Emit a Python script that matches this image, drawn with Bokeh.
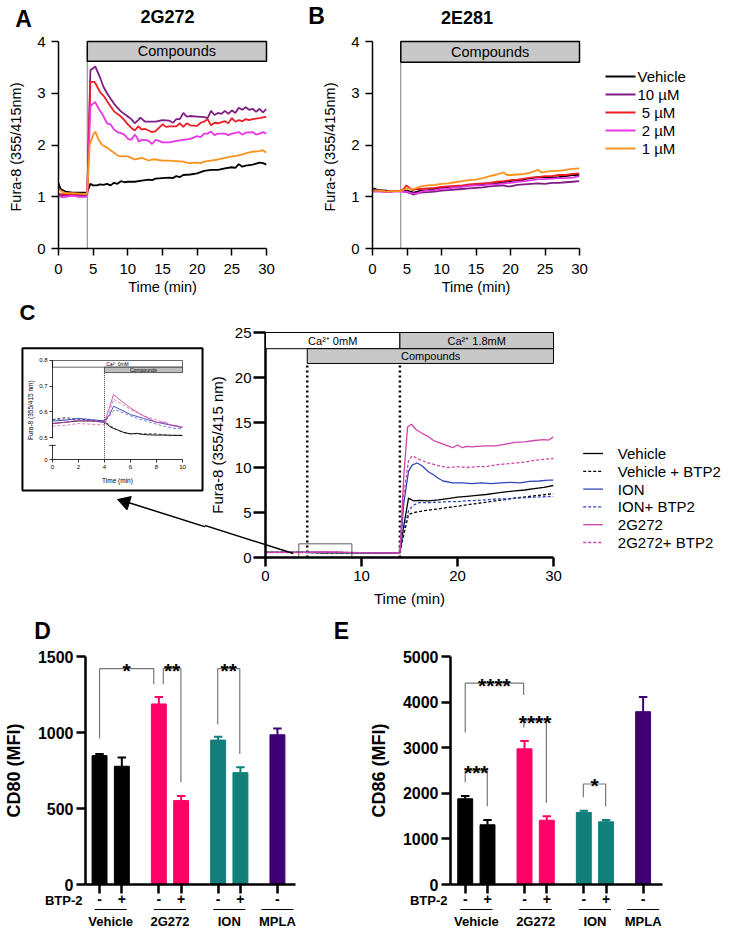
import math
from bokeh.plotting import figure
from bokeh.models import Range1d, FixedTicker
from bokeh.layouts import row, column
from bokeh.embed import file_html
from bokeh.resources import INLINE
from bokeh.core.properties import value

FONT = "Liberation Sans"

# ---------------- Panel A (2G272) ----------------
a_veh_t = [0, 0.3, 1, 2, 3, 4, 4.15, 4.6, 5, 5.5, 6, 6.5, 7, 7.5, 8, 8.5, 9, 9.5, 10, 11, 12, 13, 13.5, 14, 15, 16, 16.5, 17, 17.5, 18, 19, 20, 21, 22, 23, 24, 25, 25.5, 26, 26.5, 27, 28, 29, 29.5, 30]
a_veh_v = [1.26, 1.15, 1.1, 1.08, 1.08, 1.08, 1.1, 1.25, 1.22, 1.22, 1.24, 1.23, 1.25, 1.22, 1.27, 1.25, 1.3, 1.28, 1.29, 1.29, 1.31, 1.33, 1.32, 1.35, 1.36, 1.37, 1.36, 1.4, 1.38, 1.42, 1.43, 1.45, 1.5, 1.52, 1.52, 1.55, 1.57, 1.56, 1.63, 1.58, 1.6, 1.62, 1.66, 1.65, 1.62]
a_10_t = [0, 0.5, 1, 2, 3, 4, 4.15, 4.6, 5, 5.3, 6, 6.5, 7, 7.5, 8, 8.5, 9, 10, 10.5, 11, 11.5, 11.8, 12.5, 13, 14, 15, 16, 16.5, 17, 17.5, 18, 18.5, 19, 20, 21, 21.5, 22, 22.5, 23, 23.5, 24, 24.5, 25, 25.5, 26, 26.5, 27, 27.5, 28, 28.5, 29, 29.5, 30]
a_10_v = [1.0, 1.02, 1.03, 1.02, 1.03, 1.02, 1.05, 3.45, 3.48, 3.52, 3.3, 3.12, 3.0, 2.9, 2.8, 2.72, 2.65, 2.55, 2.5, 2.42, 2.48, 2.53, 2.45, 2.45, 2.45, 2.48, 2.47, 2.43, 2.5, 2.5, 2.62, 2.55, 2.56, 2.55, 2.54, 2.52, 2.66, 2.58, 2.62, 2.6, 2.66, 2.6, 2.67, 2.62, 2.72, 2.68, 2.73, 2.68, 2.7, 2.64, 2.7, 2.63, 2.7]
a_5_t = [0, 1, 2, 3, 4, 4.15, 4.6, 5.2, 5.5, 6, 6.5, 7, 7.5, 8, 9, 9.5, 10, 10.5, 11, 11.5, 12, 12.5, 13, 13.5, 14, 15, 15.5, 16, 17, 17.5, 18, 18.5, 19, 20, 20.5, 21, 21.5, 22, 22.5, 23, 24, 24.5, 25, 25.5, 26, 26.5, 27, 27.5, 28, 29, 30]
a_5_v = [1.05, 1.05, 1.04, 1.05, 1.04, 1.08, 3.22, 3.22, 3.15, 3.02, 2.95, 2.85, 2.75, 2.65, 2.55, 2.48, 2.4, 2.33, 2.28, 2.36, 2.3, 2.31, 2.28, 2.25, 2.27, 2.4, 2.35, 2.36, 2.36, 2.42, 2.35, 2.42, 2.38, 2.37, 2.43, 2.45, 2.5, 2.38, 2.43, 2.42, 2.46, 2.42, 2.52, 2.45, 2.48, 2.46, 2.5, 2.48, 2.5, 2.52, 2.55]
a_2_t = [0, 0.5, 1, 2, 3, 4, 4.15, 4.6, 5, 5.3, 5.8, 6.3, 7, 7.5, 8, 8.5, 9, 9.5, 10, 10.5, 11, 11.3, 11.6, 12, 12.5, 13, 13.5, 14, 14.5, 15, 16, 17, 18, 19, 20, 20.5, 21, 21.5, 22, 22.5, 23, 24, 24.5, 25, 26, 26.5, 27, 28, 28.5, 29, 29.5, 30]
a_2_v = [1.02, 0.99, 1.0, 1.02, 1.0, 1.0, 1.05, 2.75, 2.8, 2.83, 2.7, 2.6, 2.42, 2.4, 2.3, 2.25, 2.23, 2.2, 2.12, 2.1, 2.2, 2.15, 2.06, 2.1, 2.1, 2.08, 2.02, 2.1, 2.08, 2.05, 2.05, 2.08, 2.1, 2.12, 2.17, 2.15, 2.22, 2.22, 2.26, 2.19, 2.22, 2.22, 2.19, 2.22, 2.25, 2.2, 2.24, 2.25, 2.2, 2.22, 2.25, 2.22]
a_1_t = [0, 0.5, 1, 2, 3, 4, 4.15, 4.5, 5, 5.3, 5.8, 6.3, 7, 7.5, 8, 8.5, 9, 10, 10.5, 11, 12, 13, 13.5, 14, 15, 16, 17, 18, 18.5, 19, 20, 20.5, 21, 22, 23, 24, 25, 26, 27, 28, 29, 29.5, 30]
a_1_v = [1.15, 1.1, 1.07, 1.07, 1.06, 1.05, 1.1, 2.0, 2.2, 2.26, 2.1, 2.0, 1.95, 1.9, 1.85, 1.8, 1.78, 1.78, 1.75, 1.72, 1.75, 1.7, 1.72, 1.72, 1.7, 1.7, 1.69, 1.68, 1.66, 1.65, 1.66, 1.65, 1.68, 1.7, 1.72, 1.75, 1.78, 1.8, 1.84, 1.87, 1.88, 1.9, 1.85]

# ---------------- Panel B (2E281) ----------------
b_veh_t = [0, 0.3, 0.7, 1, 2, 2.5, 3, 4, 5, 6, 6.5, 7, 8, 9, 10, 11, 12, 13, 14, 15, 16, 17, 18, 19, 20, 21, 21.5, 22, 23, 24, 25, 26, 27, 28, 29, 30]
b_veh_v = [1.12, 1.16, 1.13, 1.13, 1.12, 1.1, 1.11, 1.11, 1.12, 1.08, 1.1, 1.12, 1.13, 1.15, 1.17, 1.18, 1.2, 1.2, 1.22, 1.23, 1.24, 1.26, 1.26, 1.28, 1.3, 1.32, 1.3, 1.34, 1.36, 1.38, 1.38, 1.37, 1.38, 1.4, 1.42, 1.42]
b_10_t = [0, 1, 2, 3, 4, 5, 6, 6.5, 7, 8, 9, 10, 11, 12, 13, 14, 15, 16, 17, 18, 19, 19.5, 20, 21, 22, 23, 24, 25, 26, 27, 28, 29, 30]
b_10_v = [1.12, 1.12, 1.1, 1.11, 1.11, 1.09, 1.04, 1.07, 1.08, 1.09, 1.1, 1.12, 1.13, 1.14, 1.15, 1.16, 1.17, 1.18, 1.2, 1.21, 1.22, 1.2, 1.2, 1.23, 1.24, 1.25, 1.26, 1.25, 1.27, 1.27, 1.28, 1.29, 1.3]
b_5_t = [0, 1, 2, 3, 4, 4.5, 4.9, 5.3, 5.8, 6.5, 7, 8, 9, 10, 11, 12, 13, 14, 15, 16, 17, 18, 19, 20, 21, 22, 23, 24, 25, 26, 27, 28, 29, 30]
b_5_v = [1.12, 1.12, 1.1, 1.11, 1.11, 1.15, 1.22, 1.18, 1.13, 1.15, 1.15, 1.16, 1.17, 1.19, 1.2, 1.21, 1.22, 1.24, 1.25, 1.26, 1.27, 1.29, 1.3, 1.32, 1.33, 1.35, 1.37, 1.38, 1.4, 1.4, 1.42, 1.42, 1.44, 1.45]
b_2_t = [0, 1, 2, 3, 4, 5, 5.5, 6.5, 7, 8, 9, 10, 11, 12, 13, 14, 15, 16, 17, 18, 19, 20, 21, 22, 23, 24, 25, 26, 27, 28, 29, 30]
b_2_v = [1.1, 1.1, 1.09, 1.1, 1.1, 1.1, 1.07, 1.06, 1.1, 1.12, 1.13, 1.15, 1.16, 1.18, 1.19, 1.21, 1.22, 1.22, 1.24, 1.24, 1.26, 1.27, 1.29, 1.3, 1.32, 1.34, 1.34, 1.35, 1.36, 1.36, 1.37, 1.4]
b_1_t = [0, 1, 2, 3, 4, 5, 6, 7, 8, 9, 10, 11, 12, 13, 14, 15, 16, 17, 18, 19, 19.5, 20, 21, 22, 23, 24, 24.5, 25, 26, 27, 28, 29, 30]
b_1_v = [1.12, 1.12, 1.1, 1.11, 1.11, 1.16, 1.15, 1.2, 1.22, 1.23, 1.25, 1.26, 1.28, 1.3, 1.32, 1.33, 1.36, 1.4, 1.43, 1.47, 1.42, 1.42, 1.43, 1.44, 1.47, 1.52, 1.47, 1.48, 1.5, 1.5, 1.52, 1.54, 1.55]

dose_labels = ["Vehicle", "10 µM", "\u00a05 µM", "\u00a02 µM", "\u00a01 µM"]
dose_colors = ["#000000", "#7E1E84", "#EE1C25", "#E835E8", "#F7931E"]

# ---------------- Panel C main ----------------
c_veh_t = [0, 2, 4, 6, 8, 10, 12, 14.0, 14.4, 14.9, 15.4, 16, 17, 18, 19, 20, 21, 22, 23, 24, 25, 26, 27, 28, 29, 30]
c_veh_v = [0.56, 0.57, 0.56, 0.53, 0.51, 0.51, 0.5, 0.5, 3.5, 6.6, 6.3, 6.35, 6.3, 6.4, 6.55, 6.7, 6.8, 6.9, 7.0, 7.15, 7.3, 7.4, 7.5, 7.65, 7.8, 8.0]
c_vehb_t = [0, 2, 4, 6, 8, 10, 12, 14.0, 14.4, 14.9, 15.5, 16.5, 18, 20, 22, 24, 26, 28, 30]
c_vehb_v = [0.57, 0.575, 0.565, 0.515, 0.515, 0.51, 0.5, 0.5, 2.5, 4.8, 5.0, 5.2, 5.4, 5.7, 6.0, 6.3, 6.6, 6.85, 7.1]
c_ion_t = [0, 2, 4, 6, 8, 10, 12, 14.0, 14.4, 14.9, 15.3, 15.8, 16.3, 17, 17.5, 18, 18.5, 19.5, 20.5, 21.5, 22.5, 23.5, 24.5, 25.5, 26.5, 27.5, 28.5, 29.5, 30]
c_ion_v = [0.57, 0.575, 0.565, 0.59, 0.56, 0.54, 0.5, 0.5, 6.0, 9.6, 10.3, 10.5, 10.2, 9.5, 9.2, 8.8, 8.5, 8.3, 8.3, 8.2, 8.3, 8.2, 8.3, 8.35, 8.3, 8.45, 8.5, 8.6, 8.6]
c_ionb_t = [0, 4, 6, 10, 14.0, 14.4, 14.9, 15.4, 16, 17, 18, 19, 20, 21, 22, 23, 24, 25, 26, 27, 28, 29, 30]
c_ionb_v = [0.57, 0.56, 0.58, 0.53, 0.5, 3.0, 5.2, 5.8, 6.1, 6.1, 6.15, 6.2, 6.2, 6.3, 6.35, 6.4, 6.5, 6.5, 6.6, 6.65, 6.7, 6.75, 6.8]
c_g_t = [0, 4, 6, 10, 14.0, 14.4, 14.8, 15.2, 15.7, 16.3, 17, 17.5, 18, 18.5, 19, 19.5, 20, 20.5, 21, 21.5, 22, 23, 24, 25, 26, 27, 28, 29, 29.5, 30]
c_g_v = [0.56, 0.56, 0.615, 0.54, 0.5, 9.0, 14.5, 14.8, 14.2, 13.8, 13.4, 13.0, 12.8, 12.6, 12.4, 12.2, 12.5, 12.2, 12.35, 12.3, 12.35, 12.4, 12.4, 12.6, 12.8, 12.85, 13.0, 13.1, 13.05, 13.4]
c_gb_t = [0, 4, 6, 10, 14.0, 14.4, 14.9, 15.3, 16, 17, 18, 19, 20, 21, 22, 23, 24, 25, 26, 27, 28, 29, 30]
c_gb_v = [0.545, 0.55, 0.61, 0.537, 0.5, 7.0, 10.8, 11.3, 10.9, 10.5, 10.2, 10.0, 10.1, 10.0, 10.1, 10.1, 10.3, 10.4, 10.5, 10.6, 10.8, 10.9, 11.0]

c_labels = ["Vehicle", "Vehicle + BTP2", "ION", "ION+ BTP2", "2G272", "2G272+ BTP2"]
c_colors = ["#000000", "#000000", "#3344BB", "#3344BB", "#CC44A8", "#CC44A8"]
c_dashes = ["solid", "3 2", "solid", "3 2", "solid", "3 2"]

# ---------------- Panel C inset (0-10 min) ----------------
i_veh_t = [0, 1, 2, 3, 4, 4.5, 5, 5.5, 6, 6.5, 7, 8, 9, 10]
i_veh_v = [0.555, 0.56, 0.565, 0.565, 0.56, 0.54, 0.53, 0.52, 0.515, 0.517, 0.512, 0.51, 0.51, 0.508]
i_vehb_t = [0, 0.5, 1, 2, 3, 4, 4.5, 5, 5.5, 6, 7, 8, 9, 10]
i_vehb_v = [0.57, 0.575, 0.578, 0.572, 0.568, 0.565, 0.545, 0.53, 0.52, 0.515, 0.515, 0.515, 0.508, 0.51]
i_ion_t = [0, 1, 2, 3, 4, 4.4, 4.7, 5, 6, 7, 8, 9, 10]
i_ion_v = [0.565, 0.568, 0.575, 0.57, 0.565, 0.59, 0.622, 0.615, 0.59, 0.575, 0.56, 0.55, 0.54]
i_ionb_t = [0, 1, 2, 3, 4, 4.4, 4.8, 5.5, 6.5, 7.5, 8.5, 9.5, 10]
i_ionb_v = [0.57, 0.572, 0.57, 0.568, 0.56, 0.585, 0.61, 0.595, 0.575, 0.56, 0.545, 0.535, 0.535]
i_g_t = [0, 1, 2, 3, 4, 4.4, 4.7, 5, 5.5, 6, 7, 8, 8.7, 9, 9.5, 10]
i_g_v = [0.555, 0.56, 0.568, 0.565, 0.56, 0.62, 0.668, 0.655, 0.635, 0.615, 0.585, 0.56, 0.56, 0.55, 0.547, 0.54]
i_gb_t = [0, 1, 2, 3, 4, 4.4, 4.7, 5, 6, 7, 8, 9, 10]
i_gb_v = [0.545, 0.548, 0.555, 0.552, 0.55, 0.6, 0.65, 0.64, 0.61, 0.585, 0.57, 0.55, 0.537]
INSET_ZERO = 0.414  # where the "0" tick sits below the axis break

# ---------------- Panels D / E ----------------
bar_x = [0, 1, 2.66, 3.66, 5.32, 6.32, 7.98]
btp2_signs = ["-", "+", "-", "+", "-", "+", "-"]
bar_colors = ["#000000", "#000000", "#FF0066", "#FF0066", "#117F7A", "#117F7A", "#400075"]
groups = ["Vehicle", "2G272", "ION", "MPLA"]
group_x = [0.5, 3.16, 5.82, 7.98]

cd80_mean = [848, 778, 1188, 552, 950, 736, 985]
cd80_sem = [10, 58, 45, 30, 22, 35, 42]
cd86_mean = [1880, 1310, 2975, 1410, 1580, 1375, 3790]
cd86_sem = [62, 105, 170, 88, 35, 42, 320]

d_br_x0 = [0, 2.86, 5.30]
d_br_x1 = [2.43, 3.65, 6.29]
d_br_y0 = [960, 1318, 1055]
d_br_y1 = [1318, 672, 858]
d_br_top = [1420, 1420, 1420]
d_br_txt = ["*", "**", "**"]

e_br_x0 = [0, 2.63, 0, 5.30]
e_br_x1 = [2.62, 3.64, 0.99, 6.30]
e_br_y0 = [3336, 3445, 2241, 1912]
e_br_y1 = [4153, 1788, 1715, 1708]
e_br_top = [4416, 3591, 2496, 2204]
e_br_txt = ["****", "****", "***", "*"]


def make_fig(width, height, xr, yr, left, right, top, bottom):
    p = figure(width=width, height=height, x_range=Range1d(*xr), y_range=Range1d(*yr),
               output_backend="svg", toolbar_location=None,
               min_border_left=left, min_border_right=right,
               min_border_top=top, min_border_bottom=bottom)
    p.grid.visible = False
    p.outline_line_color = None
    return p


def style_axes(p, size="15px", lw=1.5, tick_out=7, bold=False, title_size="15px"):
    for ax in list(p.xaxis) + list(p.yaxis):
        ax.axis_line_width = lw
        ax.axis_line_color = "black"
        ax.major_tick_line_width = lw
        ax.major_tick_line_color = "black"
        ax.major_tick_out = tick_out
        ax.major_tick_in = 0
        ax.minor_tick_line_color = None
        ax.major_label_text_font = FONT
        ax.major_label_text_font_size = size
        ax.major_label_text_color = "black"
        ax.major_label_text_font_style = "bold" if bold else "normal"
        ax.axis_label_text_font = FONT
        ax.axis_label_text_font_size = title_size
        ax.axis_label_text_color = "black"
        ax.axis_label_text_font_style = "bold" if bold else "normal"


def txt(p, x, y, text, size, xo=0, yo=0, bold=False, align="center", baseline="middle", angle=0):
    """Text glyph on the overlay level (not clipped to the frame); yo > 0 moves down."""
    p.text(x=[x], y=[y], text=[text], x_offset=xo, y_offset=yo, angle=angle,
           text_font=value(FONT), text_font_size=size, text_font_style="bold" if bold else "normal",
           text_align=align, text_baseline=baseline, text_color="black", level="overlay")


def manual_legend(p, fw, fh, x0_px, y0_px, dy_px, glyph_w, standoff, labels, colors, dashes, lw, size):
    """Legend entries placed at pixel offsets from the frame's top-left corner."""
    xr, yr = p.x_range, p.y_range
    sx = (xr.end - xr.start) / fw
    sy = (yr.end - yr.start) / fh
    for i, (lab, col, dsh) in enumerate(zip(labels, colors, dashes)):
        y = yr.end - (y0_px + i * dy_px) * sy
        xa = xr.start + x0_px * sx
        xb = xa + glyph_w * sx
        p.segment(x0=[xa], y0=[y], x1=[xb], y1=[y], line_color=col, line_width=lw, line_dash=dsh,
                  level="overlay")
        txt(p, xb + standoff * sx, y, lab, size, align="left")


ROW1_TOP, ROW1_BOT = 41, 52


def time_panel(width, left, right, comp_start, comp_bottom, series, ttl, ttl_xo, ttl_yo, letter, let_xo, let_yo):
    p = make_fig(width, 300, (0, 30), (0, 4), left, right, ROW1_TOP, ROW1_BOT)
    p.segment(x0=[comp_start], y0=[0], x1=[comp_start], y1=[comp_bottom], line_color="black",
              line_width=1, line_dash="1 1")
    for (t, v), c in zip(series, dose_colors):
        p.line(t, v, line_color=c, line_width=1.8)
    p.quad(left=[comp_start], right=[30], bottom=[comp_bottom], top=[4], fill_color="#C8C8C8",
           line_color="black", line_width=1.5, level="overlay")
    txt(p, (comp_start + 30) / 2, (comp_bottom + 4) / 2, "Compounds", "14.5px")
    p.xaxis.ticker = FixedTicker(ticks=[0, 5, 10, 15, 20, 25, 30])
    p.yaxis.ticker = FixedTicker(ticks=[0, 1, 2, 3, 4])
    p.xaxis.axis_label = "Time (min)"
    p.yaxis.axis_label = "Fura-8  (355/415nm)"
    style_axes(p, size="15px", lw=1.5, tick_out=7, title_size="14.5px")
    p.xaxis.major_label_standoff = 8
    p.xaxis.axis_label_standoff = 2
    p.yaxis.major_label_standoff = 6
    p.yaxis.axis_label_standoff = 10
    txt(p, 15, 4, ttl, "18px", xo=ttl_xo, yo=ttl_yo, bold=True)
    txt(p, 0, 4, letter, "23px", xo=let_xo, yo=let_yo, bold=True)
    return p


pA = time_panel(300, 58, 34, 4.15, 3.62,
                [(a_veh_t, a_veh_v), (a_10_t, a_10_v), (a_5_t, a_5_v), (a_2_t, a_2_v), (a_1_t, a_1_v)],
                "2G272", 5, -25, "A", -35, -23)
pB = time_panel(438, 72, 159, 4.1, 3.6,
                [(b_veh_t, b_veh_v), (b_10_t, b_10_v), (b_5_t, b_5_v), (b_2_t, b_2_v), (b_1_t, b_1_v)],
                "2E281", -9, -24, "B", -56, -26)
manual_legend(pB, 207, 207, 233, 35, 18, 30, 2, dose_labels, dose_colors, ["solid"] * 5, 2, "15px")

# ---------------- Inset figure (same borders as main C so the row stays aligned) ----------------
C_TOP, C_BOT = 32, 53
pI = make_fig(205, 310, (-1.69, 11.0), (0.0343, 0.9088), 30, 10, C_TOP, C_BOT)
pI.segment(x0=[4], y0=[INSET_ZERO], x1=[4], y1=[0.753], line_color="black", line_width=0.8, line_dash="1 1")
inset_series = [(i_veh_t, i_veh_v), (i_vehb_t, i_vehb_v), (i_ion_t, i_ion_v), (i_ionb_t, i_ionb_v),
                (i_g_t, i_g_v), (i_gb_t, i_gb_v)]
for (t, v), c, d in zip(inset_series, c_colors, c_dashes):
    pI.line(t, v, line_color=c, line_width=0.9, line_dash=d, line_alpha=0.75 if d != "solid" else 1)
pI.quad(left=[0], right=[10], bottom=[0.774], top=[0.8], fill_color="white", line_color="black", line_width=0.6)
pI.quad(left=[4], right=[10], bottom=[0.753], top=[0.774], fill_color="#BDBDBD", line_color="black", line_width=0.6)
txt(pI, 5, 0.787, "Ca²⁺ 0mM", "5px")
txt(pI, 7, 0.7635, "Compounds", "5px")
pI.xaxis.ticker = FixedTicker(ticks=[0, 2, 4, 6, 8, 10])
pI.yaxis.ticker = FixedTicker(ticks=[INSET_ZERO, 0.5, 0.6, 0.7, 0.8])
pI.yaxis.major_label_overrides = {INSET_ZERO: "0", 0.5: "0.5", 0.6: "0.6", 0.7: "0.7", 0.8: "0.8"}
pI.xaxis.fixed_location = INSET_ZERO
pI.yaxis.fixed_location = 0
pI.xaxis.bounds = (0, 10)
pI.yaxis.bounds = (INSET_ZERO, 0.8)
style_axes(pI, size="6px", lw=0.8, tick_out=3, title_size="6.5px")
pI.xaxis.major_label_standoff = 2
pI.yaxis.major_label_standoff = 2
txt(pI, 5, INSET_ZERO, "Time (min)", "6.5px", yo=21)
txt(pI, 0, (INSET_ZERO + 0.8) / 2, "Fura-8 (355/415 nm)", "6.5px", xo=-22, angle=math.pi / 2)
# axis break
pI.segment(x0=[0], y0=[0.472], x1=[0], y1=[0.497], line_color="white", line_width=3, level="overlay")
pI.segment(x0=[-0.25], y0=[0.47], x1=[0.25], y1=[0.47], line_color="black", line_width=0.8, level="overlay")
# frame around the inset, and the arrow head
pI.quad(left=[-2.31], right=[11.54], bottom=[0.2947], top=[0.848], fill_alpha=0, line_color="black",
        line_width=2, level="overlay")
pI.segment(x0=[5.4], y0=[0.255], x1=[18.3], y1=[0.049], line_color="black", line_width=1.5, level="overlay")
pI.scatter(x=[5.6], y=[0.25], marker="triangle", size=14, angle=72.6, angle_units="deg",
           fill_color="black", line_color="black", level="overlay")
txt(pI, 0, 0.9088, "C", "22px", xo=-25, yo=-20, bold=True)

# ---------------- Main C figure ----------------
pC = make_fig(533, 310, (0, 30), (0, 25), 57, 185, C_TOP, C_BOT)
main_series = [(c_veh_t, c_veh_v), (c_vehb_t, c_vehb_v), (c_ion_t, c_ion_v), (c_ionb_t, c_ionb_v),
               (c_g_t, c_g_v), (c_gb_t, c_gb_v)]
pC.segment(x0=[4.35, 14.0], y0=[0, 0], x1=[4.35, 14.0], y1=[21.56, 21.56], line_color="black",
           line_width=2.5, line_dash="2 3")
for (t, v), c, d in zip(main_series, c_colors, c_dashes):
    pC.line(t, v, line_color=c, line_width=1.3, line_dash=d)
pC.quad(left=[0, 14.0], right=[14.0, 30], bottom=[23.2, 23.2], top=[25, 25],
        fill_color=["white", "#C8C8C8"], line_color="black", line_width=1, level="overlay")
pC.quad(left=[4.35], right=[30], bottom=[21.56], top=[23.2], fill_color="#C8C8C8", line_color="black",
        line_width=1, level="overlay")
txt(pC, 7.0, 24.1, "Ca²⁺ 0mM", "11px")
txt(pC, 22.0, 24.1, "Ca²⁺ 1.8mM", "11px")
txt(pC, 17.2, 22.38, "Compounds", "11px")
pC.quad(left=[3.47], right=[9.0], bottom=[0], top=[1.52], fill_alpha=0, line_color="#333333", line_width=0.8)
pC.segment(x0=[2.9], y0=[0.44], x1=[-14.85], y1=[6.44], line_color="black", line_width=1.5, level="overlay")
pC.xaxis.ticker = FixedTicker(ticks=[0, 10, 20, 30])
pC.yaxis.ticker = FixedTicker(ticks=[0, 5, 10, 15, 20, 25])
pC.xaxis.axis_label = "Time (min)"
pC.yaxis.axis_label = "Fura-8 (355/415 nm)"
style_axes(pC, size="15px", lw=2.5, tick_out=9, title_size="15px")
pC.yaxis.major_tick_out = 12
pC.xaxis.major_label_standoff = 4
pC.xaxis.axis_label_standoff = 6
pC.yaxis.major_label_standoff = 2
pC.yaxis.axis_label_standoff = 6
manual_legend(pC, 291, 225, 321, 121, 17.8, 20, 15, c_labels, c_colors, c_dashes, 1.3, "15px")


# ---------------- Bar panels ----------------
def bar_panel(width, left, right, xr, ymax, yticks, means, sems, brx0, brx1, bry0, bry1, brtop, brtxt,
              ylabel, letter, let_xo):
    p = make_fig(width, 340, xr, (0, ymax), left, right, 46, 66)
    frame_h = 340 - 46 - 66
    px = ymax / frame_h
    p.vbar(x=bar_x, top=means, width=0.67, fill_color=bar_colors, line_color=bar_colors)
    tops = [m + s for m, s in zip(means, sems)]
    p.segment(x0=bar_x, y0=means, x1=bar_x, y1=tops, line_color=bar_colors, line_width=2)
    p.segment(x0=[x - 0.19 for x in bar_x], y0=tops, x1=[x + 0.19 for x in bar_x], y1=tops,
              line_color=bar_colors, line_width=2)
    xs = [[a, a, b, b] for a, b in zip(brx0, brx1)]
    ys = [[y0, t, t, y1] for y0, t, y1 in zip(bry0, brtop, bry1)]
    p.multi_line(xs=xs, ys=ys, line_color="#777777", line_width=1.2)
    p.text(x=[(a + b) / 2 for a, b in zip(brx0, brx1)], y=brtop, text=brtxt, text_align="center",
           text_baseline="alphabetic", text_font=value(FONT), text_font_style="bold", text_font_size="21px",
           y_offset=2, level="overlay")
    ul = -25 * px
    p.segment(x0=[g - 0.72 for g in group_x], y0=[ul] * 4, x1=[g + 0.72 for g in group_x], y1=[ul] * 4,
              line_color="black", line_width=1, level="overlay")
    for g, name in zip(group_x, groups):
        txt(p, g, 0, name, "13px", yo=37, bold=True)
    txt(p, xr[0], 0, "BTP-2", "13px", xo=-3, yo=16, bold=True, align="right")
    txt(p, xr[0], ymax, letter, "23px", xo=let_xo, yo=-26, bold=True)
    p.xaxis.ticker = FixedTicker(ticks=bar_x)
    p.xaxis.major_label_overrides = {x: s for x, s in zip(bar_x, btp2_signs)}
    p.yaxis.ticker = FixedTicker(ticks=yticks)
    p.yaxis.axis_label = ylabel
    style_axes(p, size="16px", lw=2.5, tick_out=9, bold=True, title_size="18px")
    p.xaxis.major_label_text_font_size = "14px"
    p.xaxis.major_label_standoff = 0
    p.yaxis.major_label_standoff = 3
    p.yaxis.axis_label_standoff = 11
    return p


pD = bar_panel(325, 85, 30, (-0.63, 8.79), 1500, [0, 500, 1000, 1500], cd80_mean, cd80_sem,
               d_br_x0, d_br_x1, d_br_y0, d_br_y1, d_br_top, d_br_txt, "CD80 (MFI)", "D", -43)
pE = bar_panel(413, 125, 76, (-0.66, 8.85), 5000, [0, 1000, 2000, 3000, 4000, 5000], cd86_mean, cd86_sem,
               e_br_x0, e_br_x1, e_br_y0, e_br_y1, e_br_top, e_br_txt, "CD86 (MFI)", "E", -109)

layout = column(row(pA, pB), row(pI, pC), row(pD, pE))
open("out.html", "w").write(file_html(layout, INLINE))
